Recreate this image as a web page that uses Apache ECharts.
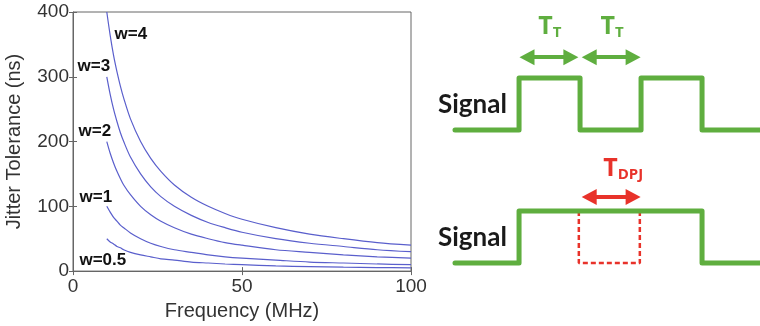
<!DOCTYPE html>
<html>
<head>
<meta charset="utf-8">
<script src="https://cdn.jsdelivr.net/npm/echarts@6/dist/echarts.min.js"></script>
<style>
  html, body { margin: 0; padding: 0; background: #fff; }
  #chart { width: 760px; height: 326px; }
</style>
</head>
<body>
<div id="chart"></div>
<script>
// jitter tolerance curves
const freq = [10, 11, 12, 13, 14, 15, 17, 20, 23, 26, 30, 35, 40, 45, 50, 60, 70, 80, 90, 100]
const tolW4 = [400, 364, 333, 308, 286, 267, 235, 200, 174, 154, 133, 114, 100, 89, 80, 67, 57, 50, 44, 40]
const tolW3 = [300, 273, 250, 231, 214, 200, 176, 150, 130, 115, 100, 86, 75, 67, 60, 50, 43, 38, 33, 30]
const tolW2 = [200, 182, 167, 154, 143, 133, 118, 100, 87, 77, 67, 57, 50, 44, 40, 33, 29, 25, 22, 20]
const tolW1 = [100, 91, 83, 77, 71, 67, 59, 50, 43, 38, 33, 29, 25, 22, 20, 17, 14, 12.5, 11, 10]
const tolW05 = [50, 45, 42, 38, 36, 33, 29, 25, 22, 19, 17, 14, 12.5, 11, 10, 8, 7, 6, 5.5, 5]
const curveNames = ['w=4', 'w=3', 'w=2', 'w=1', 'w=0.5']
const curves = [tolW4, tolW3, tolW2, tolW1, tolW05]
const xTicks = [0, 50, 100]
const yTicks = [0, 100, 200, 300, 400]

// timing diagrams, time in units of T, level 0 = low, 1 = high
const signalA = [[0, 0], [1.05, 0], [1.05, 1], [2.05, 1], [2.05, 0], [3.05, 0], [3.05, 1], [4.05, 1], [4.05, 0], [5, 0]]
const signalB = [[0, 0], [1.05, 0], [1.05, 1], [4.05, 1], [4.05, 0], [5, 0]]
const jitterBox = [[2.03, 1], [2.03, 0], [3.03, 0], [3.03, 1]]
// arrow head centres (the heads reach a little past these)
const arrowsA = [[1.18, 1.9], [2.2, 2.92]]
const arrowB = [2.2, 2.92]

const green = '#5fae3f'
const red = '#e8322a'
const blue = '#5a5fcc'
const txt = '#333'
const font = 'Liberation Sans'

const labelOffsets = [[24, 22], [-13, -10], [-12, -10], [-11, -9], [-4, 22]]

const curveSeries = curves.map((vals, i) => ({
  type: 'line',
  xAxisIndex: 0,
  yAxisIndex: 0,
  data: freq.map((f, j) => [f, vals[j]]),
  smooth: 0.3,
  showSymbol: false,
  lineStyle: {color: blue, width: 1.2},
  silent: true,
  markPoint: {
    symbol: 'circle',
    symbolSize: 0,
    silent: true,
    data: [{
      coord: [freq[0], vals[0]],
      label: {
        show: true,
        formatter: curveNames[i],
        offset: labelOffsets[i],
        color: '#111',
        fontWeight: 'bold',
        fontSize: 17,
        fontFamily: font
      }
    }]
  }
}))

const subRich = (c) => ({
  m: {fontSize: 25, color: c, fontFamily: 'Open Sans', fontWeight: 'bold', verticalAlign: 'top', lineHeight: 26},
  s: {fontSize: 15, color: c, fontFamily: 'Open Sans', fontWeight: 'bold', lineHeight: 38}
})

const arrowLine = (c) => ({
  silent: true,
  symbol: ['triangle', 'triangle'],
  symbolSize: [16, 15],
  lineStyle: {color: c, width: 4, type: 'solid'}
})

const hiddenX = (g) => ({type: 'value', gridIndex: g, min: 0, max: 5, show: false})
const hiddenY = (g) => ({type: 'value', gridIndex: g, min: 0, max: 1.5, show: false})

const option = {
  animation: false,
  grid: [
    {left: 73, top: 12, width: 338, height: 260, show: true, borderColor: '#666', borderWidth: 1},
    {left: 455, top: 52, width: 305, height: 78},
    {left: 455, top: 185, width: 305, height: 78}
  ],
  xAxis: [
    {
      type: 'value', gridIndex: 0, min: 0, max: 100, interval: 50,
      name: 'Frequency (MHz)', nameLocation: 'middle', nameGap: 26,
      nameTextStyle: {fontSize: 20, color: txt, fontFamily: font},
      axisLine: {lineStyle: {color: '#666'}},
      axisTick: {inside: true, length: 4, lineStyle: {color: '#666'}},
      axisLabel: {fontSize: 19, color: txt, fontFamily: font, margin: 6,
        formatter: v => xTicks.includes(v) ? String(v) : ''},
      splitLine: {show: false}
    },
    {
      type: 'value', gridIndex: 0, min: 0, max: 100, interval: 50, position: 'top',
      axisLine: {show: false}, axisLabel: {show: false}, splitLine: {show: false},
      axisTick: {inside: true, length: 4, lineStyle: {color: '#666'}}
    },
    hiddenX(1), hiddenX(2)
  ],
  yAxis: [
    {
      type: 'value', gridIndex: 0, min: 0, max: 400, interval: 100,
      name: 'Jitter Tolerance (ns)', nameLocation: 'middle', nameGap: 49,
      nameTextStyle: {fontSize: 20, color: txt, fontFamily: font},
      axisLine: {show: true, lineStyle: {color: '#666'}},
      axisTick: {show: true, inside: true, length: 4, lineStyle: {color: '#666'}},
      axisLabel: {fontSize: 19, color: txt, fontFamily: font, margin: 4,
        formatter: v => yTicks.includes(v) ? String(v) : ''},
      splitLine: {show: false}
    },
    {
      type: 'value', gridIndex: 0, min: 0, max: 400, interval: 100, position: 'right',
      axisLine: {show: false}, axisLabel: {show: false}, splitLine: {show: false},
      axisTick: {show: true, inside: true, length: 4, lineStyle: {color: '#666'}}
    },
    hiddenY(1), hiddenY(2)
  ],
  series: [
    ...curveSeries,
    {
      type: 'line', xAxisIndex: 3, yAxisIndex: 3, data: jitterBox,
      showSymbol: false, clip: false, silent: true,
      lineStyle: {color: red, width: 2.5, type: [5, 3]}
    },
    {
      type: 'line', xAxisIndex: 3, yAxisIndex: 3, data: signalB,
      showSymbol: false, clip: false, silent: true,
      lineStyle: {color: green, width: 5, join: 'round', cap: 'round'},
      markLine: Object.assign(arrowLine(red), {
        label: {
          show: true, position: 'middle', distance: 3, offset: [12, 0],
          formatter: '{m|T}{s|DPJ}', rich: subRich(red)
        },
        data: [[{coord: [arrowB[0], 1.27]}, {coord: [arrowB[1], 1.27]}]]
      })
    },
    {
      type: 'line', xAxisIndex: 2, yAxisIndex: 2, data: signalA,
      showSymbol: false, clip: false, silent: true,
      lineStyle: {color: green, width: 5, join: 'round', cap: 'round'},
      markLine: Object.assign(arrowLine(green), {
        label: {
          show: true, position: 'middle', distance: 5, offset: [1, 0],
          formatter: '{m|T}{s|T}', rich: subRich(green)
        },
        data: arrowsA.map(a => [{coord: [a[0], 1.4]}, {coord: [a[1], 1.4]}])
      })
    }
  ],
  graphic: [
    {type: 'text', left: 438, top: 92, silent: true,
      style: {text: 'Signal', fontSize: 26, fontWeight: 'bold', fontFamily: 'Lato', fill: '#1a1a1a'}},
    {type: 'text', left: 438, top: 225, silent: true,
      style: {text: 'Signal', fontSize: 26, fontWeight: 'bold', fontFamily: 'Lato', fill: '#1a1a1a'}}
  ]
}

const c = echarts.init(document.getElementById('chart'))
c.setOption(option)
</script>
</body>
</html>
